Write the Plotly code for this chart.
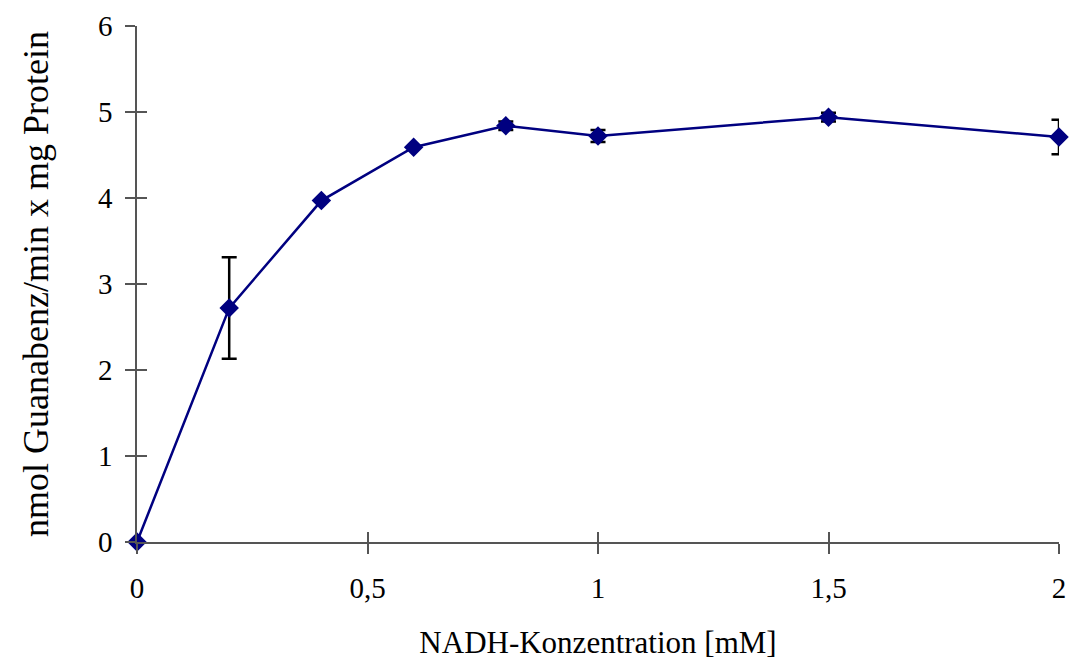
import plotly.graph_objects as go

nadh = [0, 0.2, 0.4, 0.6, 0.8, 1.0, 1.5, 2.0]
activity = [0.0, 2.72, 3.97, 4.59, 4.84, 4.72, 4.94, 4.71]
err = [0.0, 0.59, 0.0, 0.0, 0.05, 0.07, 0.05, 0.2]
x_ticks = [0, 0.5, 1, 1.5, 2]
x_labels = ["0", "0,5", "1", "1,5", "2"]
y_ticks = [0, 1, 2, 3, 4, 5, 6]

fam = "Liberation Serif, Times New Roman, serif"
tickfont = dict(family=fam, size=29, color="black")

fig = go.Figure()
fig.add_trace(go.Scatter(
    x=nadh, y=activity, mode="lines+markers",
    line=dict(color="#000080", width=2.5),
    marker=dict(symbol="diamond", size=15, color="#000080"),
    error_y=dict(type="data", array=err, visible=True, color="black", thickness=2.5, width=7.5),
    cliponaxis=False, showlegend=False,
))
fig.add_trace(go.Scatter(x=[0], y=[0], xaxis="x2", yaxis="y2", mode="markers",
                         marker=dict(opacity=0), showlegend=False, hoverinfo="skip"))

axcol = "#555555"
fig.update_layout(
    width=1069, height=660,
    paper_bgcolor="white", plot_bgcolor="white",
    margin=dict(l=137, r=10, t=26, b=118),
    font=tickfont,
    xaxis=dict(range=[0, 2], tickvals=x_ticks, ticktext=x_labels, showgrid=False, zeroline=False,
               showline=True, linecolor=axcol, linewidth=1.5, ticks="outside", ticklen=10,
               tickcolor=axcol, tickwidth=1.5, ticklabelstandoff=9, tickfont=tickfont,
               automargin=False,
               title=dict(text="NADH-Konzentration [mM]", font=dict(family=fam, size=31, color="black"), standoff=31)),
    yaxis=dict(range=[0, 6], tickvals=y_ticks, showgrid=False, zeroline=False,
               showline=True, linecolor=axcol, linewidth=1.5, ticks="outside", ticklen=10,
               tickcolor=axcol, tickwidth=1.5, ticklabelstandoff=7, tickfont=tickfont,
               automargin=False,
               title=dict(text="nmol Guanabenz/min x mg Protein", font=dict(family=fam, size=36, color="black"), standoff=38)),
    xaxis2=dict(range=[0, 2], overlaying="x", tickvals=x_ticks, showticklabels=False,
                ticks="inside", ticklen=10, tickcolor=axcol, tickwidth=1.5, showgrid=False,
                zeroline=False, showline=False, side="bottom", automargin=False),
    yaxis2=dict(range=[0, 6], overlaying="y", tickvals=y_ticks, showticklabels=False,
                ticks="inside", ticklen=10, tickcolor=axcol, tickwidth=1.5, showgrid=False,
                zeroline=False, showline=False, side="left", automargin=False),
)
fig.write_html("out.html", config={"displayModeBar": False},
               post_script="document.body.style.margin='0';document.body.style.padding='0';")
